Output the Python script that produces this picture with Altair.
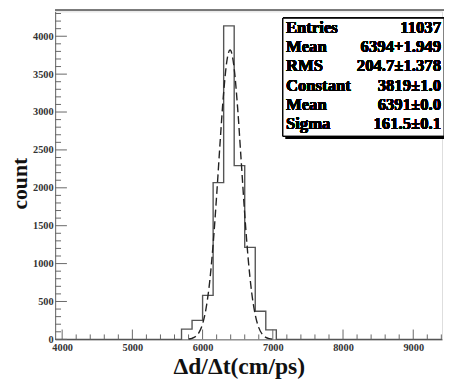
import altair as alt
import pandas as pd

# ---- data ----
bin_edges = [5700, 5850, 6000, 6150, 6300, 6450, 6600, 6750, 6900, 7050]
bin_counts = [135, 250, 580, 2069, 4136, 2293, 1213, 371, 125]

fit_x = [5800, 5850, 5900, 5950, 6000, 6050, 6100, 6150, 6200, 6250, 6300, 6350,
         6391, 6400, 6450, 6500, 6550, 6600, 6650, 6700, 6750, 6800, 6850, 6900,
         6950, 7000]
fit_y = [4.7, 14.0, 37.6, 91.7, 203.6, 411, 753, 1255, 1898, 2609, 3258, 3698,
         3819, 3813, 3573, 3041, 2352, 1653, 1056, 612, 323, 155, 67, 26.6,
         9.6, 3.1]

stat_names = ["Entries", "Mean", "RMS", "Constant", "Mean", "Sigma"]
stat_values = ["11037", "6394+1.949", "204.7±1.378", "3819±1.0", "6391±0.0", "161.5±0.1"]

x_min, x_max = 3900, 9410
y_max = 4328
x_major = [4000, 5000, 6000, 7000, 8000, 9000]
y_major = [0, 500, 1000, 1500, 2000, 2500, 3000, 3500, 4000]

W, H = 394, 334
SERIF = "Liberation Serif"

# ---- tables ----
hist_df = pd.DataFrame({
    "x": [x_min] + bin_edges + [x_max],
    "y": [0] + bin_counts + [0, 0],
})
fit_df = pd.DataFrame({"x": fit_x, "y": fit_y})
xt_major = pd.DataFrame({"v": x_major})
xt_minor = pd.DataFrame({"v": [v for v in range(4000, x_max + 1, 200) if v % 1000]})
yt_major = pd.DataFrame({"v": y_major})
yt_minor = pd.DataFrame({"v": [v for v in range(0, y_max + 1, 100) if v % 500]})

xs = alt.Scale(domain=[x_min, x_max], nice=False, zero=False)
ys = alt.Scale(domain=[0, y_max], nice=False)

x_axis = alt.Axis(
    values=x_major, format="d", ticks=False, grid=False,
    labelFont=SERIF, labelFontWeight="bold", labelFontSize=10.5, labelColor="#333",
    labelPadding=3, domainColor="#666",
    title="Δd/Δt(cm/ps)", titleFont=SERIF, titleFontWeight="bold", titleFontSize=24,
    titleColor="#111", titleX=187, titleY=35, titleBaseline="alphabetic",
    titleAnchor="start", titleAlign="center",
)
y_axis = alt.Axis(
    values=y_major, format="d", ticks=False, grid=False,
    labelFont=SERIF, labelFontWeight="bold", labelFontSize=10.5, labelColor="#333",
    labelPadding=2, domainColor="#666",
    title="count", titleFont=SERIF, titleFontWeight="bold", titleFontSize=22,
    titleColor="#111", titleX=-29, titleY=175, titleBaseline="alphabetic",
    titleAngle=-90, titleAlign="center",
)

hist = alt.Chart(hist_df).mark_line(
    interpolate="step-after", color="#555", strokeWidth=1.4
).encode(
    x=alt.X("x:Q", scale=xs, axis=x_axis),
    y=alt.Y("y:Q", scale=ys, axis=y_axis),
)

fit = alt.Chart(fit_df).mark_line(
    color="#222", strokeWidth=1.4, strokeDash=[8, 4], interpolate="monotone"
).encode(x=alt.X("x:Q", scale=xs), y=alt.Y("y:Q", scale=ys))

xmaj = alt.Chart(xt_major).mark_rule(color="#666").encode(
    x=alt.X("v:Q", scale=xs), y=alt.value(H), y2=alt.value(H - 10))
xmin_ = alt.Chart(xt_minor).mark_rule(color="#666").encode(
    x=alt.X("v:Q", scale=xs), y=alt.value(H), y2=alt.value(H - 5))
ymaj = alt.Chart(yt_major).mark_rule(color="#666").encode(
    y=alt.Y("v:Q", scale=ys), x=alt.value(0), x2=alt.value(12))
ymin_ = alt.Chart(yt_minor).mark_rule(color="#666").encode(
    y=alt.Y("v:Q", scale=ys), x=alt.value(0), x2=alt.value(6))

top_line = alt.Chart(hist_df).mark_rule(color="#777", strokeWidth=1.2).encode(
    x=alt.value(0), x2=alt.value(W + 2), y=alt.value(-1))

shadow = alt.Chart(hist_df).mark_rect(color="#000", opacity=1).encode(
    x=alt.value(235), x2=alt.value(399), y=alt.value(10), y2=alt.value(130))
box = alt.Chart(hist_df).mark_rect(
    fill="white", stroke="#000", strokeWidth=1, opacity=1
).encode(x=alt.value(232), x2=alt.value(396), y=alt.value(7), y2=alt.value(127))

names = alt.Chart(hist_df).mark_text(
    align="left", baseline="middle", font=SERIF, fontWeight="bold",
    fontSize=17, lineHeight=19.6, color="#000"
).encode(x=alt.value(235), y=alt.value(17), text=alt.value(stat_names))
values = alt.Chart(hist_df).mark_text(
    align="right", baseline="middle", font=SERIF, fontWeight="bold",
    fontSize=17, lineHeight=19.6, color="#000"
).encode(x=alt.value(393), y=alt.value(17), text=alt.value(stat_values))

chart = alt.layer(
    hist, fit, xmaj, xmin_, ymaj, ymin_, top_line, shadow, box, names, values
).properties(
    width=W, height=H,
    autosize=alt.AutoSizeParams(type="none"),
    padding={"left": 48, "top": 0, "right": 2, "bottom": 41},
).configure_view(stroke=None).configure(background="white")

chart.save("out.html", embed_options={"renderer": "svg", "actions": False})
